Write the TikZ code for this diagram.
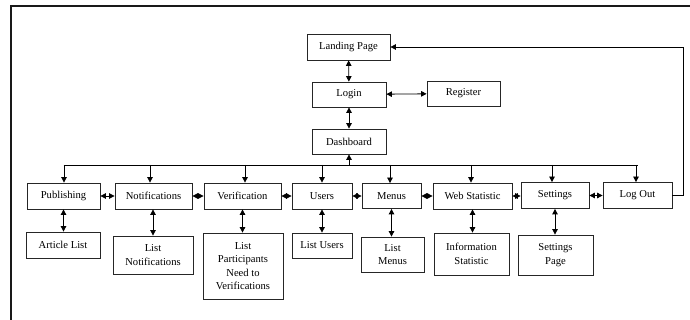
\documentclass[tikz,border=0pt]{standalone}
\usepackage{fontspec}
\setmainfont{Liberation Serif}
\usetikzlibrary{arrows.meta}
\begin{document}
\begin{tikzpicture}[x=1pt,y=-1pt,
  box/.style={draw=black!85, line width=0.8pt, fill=white, align=center,
    inner sep=1pt, font=\fontsize{10.6}{13.5}\selectfont},
  link/.style={line width=0.8pt, black},
  tip/.tip={Triangle[length=5.5pt,width=5.5pt]}]
\useasboundingbox (0,0) rectangle (690,320);
% outer frame (left and top edges)
\draw[line width=1.6pt, black!90] (11,320) -- (11,6) -- (690,6);

% top chain
\node[box, minimum width=83pt, minimum height=26pt] (land)   at (348.5,47)  {Landing Page};
\node[box, minimum width=74pt, minimum height=25pt] (login)  at (349,94.5)  {Login};
\node[box, minimum width=73pt, minimum height=25pt] (reg)    at (463.5,93.5){Register};
\node[box, minimum width=74pt, minimum height=25pt] (dash)   at (349,141.5) {Dashboard};

% main menu row
\node[box, minimum width=73pt, minimum height=26pt] (pub)    at (63.5,196)  {Publishing};
\node[box, minimum width=77pt, minimum height=26pt] (notif)  at (153.5,196) {Notifications};
\node[box, minimum width=77pt, minimum height=26pt] (verif)  at (242.5,196) {Verification};
\node[box, minimum width=60pt, minimum height=26pt] (users)  at (322,196)   {Users};
\node[box, minimum width=59pt, minimum height=25pt] (menus)  at (391.5,196) {Menus};
\node[box, minimum width=79pt, minimum height=26pt] (web)    at (472.5,196) {Web Statistic};
\node[box, minimum width=68pt, minimum height=26pt] (sett)   at (555,195.5) {Settings};
\node[box, minimum width=69pt, minimum height=26pt] (logout) at (637.5,195.5){Log Out};

% sub pages
\node[box, minimum width=74pt, minimum height=26pt] (art)    at (63,245)    {Article List};
\node[box, minimum width=80pt, minimum height=38pt] (lnotif) at (153,255)   {List\\Notifications};
\node[box, minimum width=80pt, minimum height=66pt] (lpart)  at (243,266)   {List\\Participants\\Need to\\Verifications};
\node[box, minimum width=60pt, minimum height=25pt] (lusers) at (322,245.5) {List Users};
\node[box, minimum width=63pt, minimum height=35pt] (lmenus) at (392.5,254.5){List\\Menus};
\node[box, minimum width=75pt, minimum height=42pt] (info)   at (471.5,254) {Information\\Statistic};
\node[box, minimum width=75pt, minimum height=40pt] (spage)  at (555.5,255) {Settings\\Page};

% helper coordinates
\coordinate (bus) at (349,165);
\coordinate (ret) at (683,0);

% top chain connectors
\draw[link, tip-tip] (land) -- (login);
\draw[link, tip-tip] (login) -- (reg);
\draw[link, tip-tip] (login) -- (dash);

% distribution bus
\draw[link, -tip] (dash.south |- bus) -- (dash.south);
\draw[link] (pub.north |- bus) -- (logout.north |- bus);
\foreach \n/\xx in {pub/64, notif/150, verif/245, users/322, menus/390, web/471, sett/552, logout/636} {
  \draw[link, -tip] (\xx,165) -- (\xx,0 |- \n.north);
}

% neighbours in the row
\draw[link, tip-tip] (pub) -- (notif);
\draw[link, tip-tip] (notif) -- (verif);
\draw[link, tip-tip] (verif) -- (users);
\draw[link, tip-tip] (users) -- (menus);
\draw[link, tip-tip] (menus) -- (web);
\draw[link, tip-tip] (web.east) -- (sett.west |- web.east);
\draw[link, tip-tip] (sett) -- (logout);

% menu item to sub page
\draw[link, tip-tip] (pub) -- (pub |- art.north);
\draw[link, tip-tip] (notif.south -| lnotif) -- (lnotif);
\draw[link, tip-tip] (verif) -- (verif |- lpart.north);
\draw[link, tip-tip] (users) -- (lusers);
\draw[link, tip-tip] (menus) -- (menus |- lmenus.north);
\draw[link, tip-tip] (web) -- (web |- info.north);
\draw[link, tip-tip] (sett) -- (sett |- spage.north);

% log out returns to the landing page
\draw[link, -tip] (logout.east) -- (logout.east -| ret) |- (land.east);
\end{tikzpicture}
\end{document}
